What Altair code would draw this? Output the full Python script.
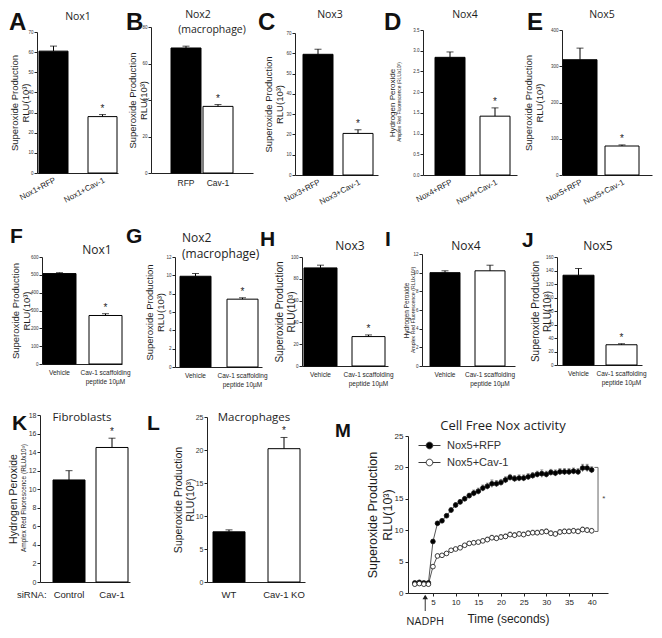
import altair as alt
import pandas as pd

# ---------------------------------------------------------------- data
A_LABELS = ["Nox1+RFP", "Nox1+Cav-1"]
A_VALUES = [60.5, 28.0]
A_ERRORS = [2.5, 1.0]
A_TICKS = [0, 10, 20, 30, 40, 50, 60, 70]

B_LABELS = ["RFP", "Cav-1"]
B_VALUES = [68.5, 36.5]
B_ERRORS = [1.0, 1.0]
B_TICKS = [0, 20, 40, 60, 80]

C_LABELS = ["Nox3+RFP", "Nox3+Cav-1"]
C_VALUES = [59.5, 20.5]
C_ERRORS = [2.5, 1.8]
C_TICKS = [0, 10, 20, 30, 40, 50, 60, 70]

D_LABELS = ["Nox4+RFP", "Nox4+Cav-1"]
D_VALUES = [2.84, 1.42]
D_ERRORS = [0.13, 0.2]
D_TICKS = [0.0, 0.5, 1.0, 1.5, 2.0, 2.5, 3.0, 3.5]

E_LABELS = ["Nox5+RFP", "Nox5+Cav-1"]
E_VALUES = [318, 80]
E_ERRORS = [32, 3]
E_TICKS = [0, 100, 200, 300, 400]

PEPTIDE_LABELS = ["Vehicle", "Cav-1 scaffolding\npeptide 10µM"]
F_VALUES = [507, 272]
F_ERRORS = [5, 10]
F_TICKS = [0, 100, 200, 300, 400, 500, 600]
G_VALUES = [9.9, 7.4]
G_ERRORS = [0.3, 0.15]
G_TICKS = [0, 2, 4, 6, 8, 10, 12]
H_VALUES = [90, 27]
H_ERRORS = [2.5, 1.5]
H_TICKS = [0, 20, 40, 60, 80, 100]
I_VALUES = [10.0, 10.2]
I_ERRORS = [0.2, 0.6]
I_TICKS = [0, 2, 4, 6, 8, 10, 12]
J_VALUES = [133, 30]
J_ERRORS = [10, 1.5]
J_TICKS = [0, 20, 40, 60, 80, 100, 120, 140, 160]

K_LABELS = ["Control", "Cav-1"]
K_VALUES = [11.0, 14.5]
K_ERRORS = [1.0, 1.0]
K_TICKS = [0, 2, 4, 6, 8, 10, 12, 14, 16, 18]

L_LABELS = ["WT", "Cav-1 KO"]
L_VALUES = [7.6, 20.2]
L_ERRORS = [0.3, 1.7]
L_TICKS = [0, 5, 10, 15, 20, 25]

STAR_SECOND = [False, True]
STAR_NONE = [False, False]

SERIES = ["Nox5+RFP", "Nox5+Cav-1"]
TIME = list(range(1, 41))
RFP_MEAN = [1.6, 1.7, 1.6, 1.6, 8.2, 11.1, 11.5, 12.3, 13.2, 14.0,
            14.5, 15.0, 15.5, 15.9, 16.2, 16.7, 17.0, 17.4, 17.4, 17.6,
            18.0, 18.4, 18.2, 18.3, 18.3, 18.5, 18.7, 18.9, 19.0, 18.9,
            19.2, 19.1, 19.3, 19.3, 19.3, 19.4, 19.3, 19.9, 19.9, 19.6]
RFP_SEM = [0.1, 0.1, 0.1, 0.1, 0.3, 0.3, 0.3, 0.3, 0.4, 0.4,
           0.4, 0.4, 0.4, 0.5, 0.5, 0.5, 0.5, 0.6, 0.5, 0.5,
           0.5, 0.5, 0.5, 0.5, 0.5, 0.5, 0.5, 0.5, 0.6, 0.5,
           0.5, 0.5, 0.5, 0.5, 0.5, 0.5, 0.5, 0.6, 0.6, 0.5]
CAV_MEAN = [1.4, 1.5, 1.4, 1.4, 4.2, 5.9, 6.0, 6.3, 6.8, 7.0,
            7.2, 7.6, 7.9, 8.0, 8.1, 8.3, 8.5, 8.8, 8.7, 8.9,
            9.0, 9.3, 9.2, 9.4, 9.3, 9.5, 9.6, 9.6, 9.7, 9.8,
            9.5, 9.4, 9.7, 9.8, 9.8, 9.9, 9.8, 10.1, 10.0, 9.9]
CAV_SEM = [0.1, 0.1, 0.1, 0.1, 0.3, 0.3, 0.3, 0.3, 0.3, 0.3,
           0.3, 0.3, 0.3, 0.3, 0.3, 0.3, 0.4, 0.4, 0.4, 0.4,
           0.4, 0.4, 0.4, 0.4, 0.4, 0.4, 0.4, 0.4, 0.4, 0.4,
           0.4, 0.4, 0.4, 0.4, 0.4, 0.4, 0.4, 0.4, 0.4, 0.4]
M_XDOMAIN = [-0.5, 43.6]
M_TICKS_X = [5, 10, 15, 20, 25, 30, 35, 40]
M_TICKS_Y = [0, 5, 10, 15, 20, 25]
NADPH_TIME = 3.3
SIG_X, SIG_LOW, SIG_HIGH, SIG_TICK_X, SIG_STAR_X = 41.4, 9.8, 20.0, 40.6, 42.7

SUPEROXIDE = ["Superoxide Production", "RLU(10³)"]
AMPLEX = "Amplex Red Fluorescence (RLUx10³)"

# ---------------------------------------------------------------- layout
W, H = 646, 622
MG = 8
AXFONT = "Liberation Sans"
TFONT = "Open Sans"
INK = "#1e1e1e"
ONE = pd.DataFrame({"k": [0]})


def bar_panel(labels, values, errors, stars, ticks, box, bars, ytitle, ytsize, title_at,
              lab_size, lab_pad, lab_angle=0, tick_font=4.5, fmt=None, multiline=False,
              star_size=10):
    x0, x1, ytop, ybot = box
    l1, l2, w = bars
    step = l2 - l1
    outer = (x1 - x0) - (step + w)
    df = pd.DataFrame({"label": labels, "value": values, "err": errors,
                       "star": ["*" if s else "" for s in stars],
                       "order": list(range(len(labels)))})
    df["top"] = df["value"] + df["err"]
    xs = alt.Scale(domain=labels, range=[x0 - MG, x1 - MG], paddingInner=1 - w / step,
                   paddingOuter=max(outer, 0) / (2 * step),
                   align=(l1 - x0) / outer if outer > 0 else 0.5)
    ys = alt.Scale(domain=[ticks[0], ticks[-1]], range=[ybot - MG, ytop - MG], nice=False)
    xax = dict(orient="bottom", offset=(ybot - MG) - H, ticks=False, title=None,
               labelFontSize=lab_size, labelPadding=lab_pad, labelColor=INK)
    if lab_angle:
        xax.update(labelAngle=lab_angle, labelAlign="right", labelBaseline="top")
    else:
        xax.update(labelAngle=0, labelAlign="center", labelBaseline="top")
    if multiline:
        xax.update(labelExpr="split(datum.label, '\\n')", labelLineHeight=lab_size * 1.4)
    yax = dict(orient="left", offset=-(x0 - MG), values=ticks, tickSize=3,
               labelFontSize=tick_font, labelPadding=1, labelOverlap=False,
               title=ytitle, titleFontSize=ytsize, titleX=title_at - x0,
               titleLineHeight=ytsize * 1.2)
    if fmt:
        yax["format"] = fmt
    base = alt.Chart(df)
    xenc = alt.X("label:N", scale=xs, sort=labels, axis=alt.Axis(**xax), title=None)
    bars_ = base.mark_bar(stroke="black", strokeWidth=1).encode(
        x=xenc,
        y=alt.Y("value:Q", scale=ys, axis=alt.Axis(**yax)),
        fill=alt.condition("datum.order == 0", alt.value("black"), alt.value("white")),
    )
    err = base.mark_rule(color="black", strokeWidth=1).encode(
        x=alt.X("label:N", sort=labels), y="value:Q", y2="top:Q")
    cap = base.mark_tick(color="black", thickness=1, size=7, orient="horizontal").encode(
        x=alt.X("label:N", sort=labels), y="top:Q")
    star = base.mark_text(fontSize=star_size, dy=-6, color=INK, font=AXFONT).encode(
        x=alt.X("label:N", sort=labels), y="top:Q", text="star:N")
    return alt.layer(bars_, err, cap, star)


def note(text, x, y, size, weight="normal", align="left", angle=0, font=TFONT,
         baseline="alphabetic", color=INK):
    return alt.Chart(ONE).mark_text(
        text=text, fontSize=size, fontWeight=weight, align=align, angle=angle,
        font=font, baseline=baseline, color=color,
    ).encode(x=alt.value(x - MG), y=alt.value(y - MG))


def letter(text, x, y, size):
    return note(text, x, y, size, weight="bold", font=AXFONT, color="#111")


panels = [
    bar_panel(A_LABELS, A_VALUES, A_ERRORS, STAR_SECOND, A_TICKS, (37, 118, 32, 173), (39, 88, 29),
              SUPEROXIDE, 9.5, 19, 8, 3, lab_angle=-28),
    bar_panel(B_LABELS, B_VALUES, B_ERRORS, STAR_SECOND, B_TICKS, (151, 253, 27, 173), (171, 203, 30),
              SUPEROXIDE, 9.5, 137, 8.5, 5),
    bar_panel(C_LABELS, C_VALUES, C_ERRORS, STAR_SECOND, C_TICKS, (295, 378, 33, 175), (303, 343, 30),
              SUPEROXIDE, 9.5, 273, 8, 3, lab_angle=-28),
    bar_panel(D_LABELS, D_VALUES, D_ERRORS, STAR_SECOND, D_TICKS, (423, 517, 30, 175), (435, 480, 30),
              "Hydrogen Peroxide", 8, 396, 8, 3, lab_angle=-28, fmt=".1f"),
    bar_panel(E_LABELS, E_VALUES, E_ERRORS, STAR_SECOND, E_TICKS, (562, 652, 30, 175), (563, 605, 34),
              SUPEROXIDE, 9.5, 533, 8, 3, lab_angle=-28),
    bar_panel(PEPTIDE_LABELS, F_VALUES, F_ERRORS, STAR_SECOND, F_TICKS, (42, 122, 257, 364), (43, 89, 33),
              SUPEROXIDE, 9.5, 20, 6.5, 5, multiline=True),
    bar_panel(PEPTIDE_LABELS, G_VALUES, G_ERRORS, STAR_SECOND, G_TICKS, (175, 262, 257, 367), (180, 227, 31),
              SUPEROXIDE, 9.5, 154, 6.5, 5, multiline=True),
    bar_panel(PEPTIDE_LABELS, H_VALUES, H_ERRORS, STAR_SECOND, H_TICKS, (302, 388, 257, 366), (304, 352, 33),
              SUPEROXIDE, 10, 284, 6.5, 5, multiline=True),
    bar_panel(PEPTIDE_LABELS, I_VALUES, I_ERRORS, STAR_NONE, I_TICKS, (422, 515, 254, 366), (430, 475, 30),
              "Hydrogen Peroxide", 6.5, 409, 6.5, 5, multiline=True),
    bar_panel(PEPTIDE_LABELS, J_VALUES, J_ERRORS, STAR_SECOND, J_TICKS, (557, 642, 257, 365), (563, 606, 31),
              SUPEROXIDE, 10, 540, 6.5, 5, multiline=True),
    bar_panel(K_LABELS, K_VALUES, K_ERRORS, STAR_SECOND, K_TICKS, (40, 130, 415, 582), (53, 96, 32),
              "Hydrogen Peroxide", 10.5, 18, 9.5, 7, tick_font=7),
    bar_panel(L_LABELS, L_VALUES, L_ERRORS, STAR_SECOND, L_TICKS, (207, 305, 417, 582), (213, 268, 32),
              SUPEROXIDE, 10.5, 183, 9.5, 7, tick_font=7),
]

# ---------------------------------------------------------------- panel M
mdf = pd.DataFrame({
    "time": TIME + TIME,
    "mean": RFP_MEAN + CAV_MEAN,
    "sem": RFP_SEM + CAV_SEM,
    "series": [SERIES[0]] * len(TIME) + [SERIES[1]] * len(TIME),
})
mdf["lo"] = mdf["mean"] - mdf["sem"]
mdf["hi"] = mdf["mean"] + mdf["sem"]
mx0, mx1, my0, my1 = 408, 608, 436, 593
mxs = alt.Scale(domain=M_XDOMAIN, range=[mx0 - MG, mx1 - MG], nice=False, zero=False)
mys = alt.Scale(domain=[M_TICKS_Y[0], M_TICKS_Y[-1]], range=[my1 - MG, my0 - MG], nice=False)
mxax = alt.Axis(orient="bottom", offset=(my1 - MG) - H, values=M_TICKS_X, tickSize=3,
                labelFontSize=8, labelPadding=2, labelColor=INK, title="Time (seconds)",
                titleFontSize=12, titlePadding=7, labelFlush=False)
myax = alt.Axis(orient="left", offset=-(mx0 - MG), values=M_TICKS_Y, tickSize=3,
                labelFontSize=8, labelPadding=2, labelColor=INK, title=SUPEROXIDE,
                titleFontSize=12.5, titleX=379 - mx0, titleLineHeight=15)
mbase = alt.Chart(mdf)
mline = mbase.mark_line(color="#555", strokeWidth=1).encode(
    x=alt.X("time:Q", scale=mxs, axis=mxax),
    y=alt.Y("mean:Q", scale=mys, axis=myax),
    detail="series:N",
)
merr = mbase.mark_rule(color="#555", strokeWidth=0.8).encode(x="time:Q", y="lo:Q", y2="hi:Q")
mcap = mbase.mark_tick(color="#555", thickness=0.8, size=3, orient="horizontal").encode(
    x="time:Q", y="hi:Q")
LEG_PATH = "M-1,0L-0.3,0M0.3,0L1,0M0.3,0A0.3,0.3,0,1,1,-0.3,0A0.3,0.3,0,1,1,0.3,0Z"
mpts = mbase.mark_point(shape="circle", filled=True, size=22, stroke="#111",
                        strokeWidth=0.8, opacity=1).encode(
    x="time:Q", y="mean:Q",
    fill=alt.Fill("series:N", scale=alt.Scale(domain=SERIES, range=["black", "white"]),
                  legend=alt.Legend(orient="none", legendX=410, legendY=426, title=None,
                                    symbolType=LEG_PATH, symbolSize=484,
                                    symbolStrokeColor="#222", symbolStrokeWidth=0.9,
                                    labelFont=AXFONT, labelFontSize=11, labelColor="#333",
                                    labelOffset=6, rowPadding=-5, padding=0)),
)
sig = alt.Chart(ONE).mark_rule(color="#666", strokeWidth=1).encode(
    x=alt.datum(SIG_X), y=alt.datum(SIG_LOW), y2=alt.datum(SIG_HIGH))
sig_top = alt.Chart(ONE).mark_rule(color="#666", strokeWidth=1).encode(
    x=alt.datum(SIG_TICK_X), x2=alt.datum(SIG_X), y=alt.datum(SIG_HIGH))
sig_bot = alt.Chart(ONE).mark_rule(color="#666", strokeWidth=1).encode(
    x=alt.datum(SIG_TICK_X), x2=alt.datum(SIG_X), y=alt.datum(SIG_LOW))
sig_star = alt.Chart(ONE).mark_text(text="*", fontSize=8, color="#444").encode(
    x=alt.datum(SIG_STAR_X), y=alt.datum((SIG_LOW + SIG_HIGH) / 2))
arrow = alt.Chart(ONE).mark_rule(color="#333", strokeWidth=1).encode(
    x=alt.datum(NADPH_TIME), y=alt.value(596 - MG), y2=alt.value(611 - MG))
arrow_head = alt.Chart(ONE).mark_point(shape="triangle-up", filled=True, size=30,
                                       color="#222", opacity=1).encode(
    x=alt.datum(NADPH_TIME), y=alt.value(597 - MG))
nadph = alt.Chart(ONE).mark_text(text="NADPH", fontSize=11, font=TFONT, color=INK,
                                 baseline="alphabetic").encode(
    x=alt.datum(NADPH_TIME), y=alt.value(625 - MG))
panel_m = alt.layer(mline, merr, mcap, mpts, sig, sig_top, sig_bot, sig_star,
                    arrow, arrow_head, nadph)

# ---------------------------------------------------------------- annotations
notes = [
    # panel letters
    letter("A", 9, 30, 24), letter("B", 126, 30, 24), letter("C", 258, 30, 24),
    letter("D", 384, 30, 24), letter("E", 527, 30, 24),
    letter("F", 10, 243, 21), letter("G", 126, 243, 21), letter("H", 260, 246, 21),
    letter("I", 385, 246, 21), letter("J", 522, 247, 21),
    letter("K", 12, 430, 21), letter("L", 147, 430, 21), letter("M", 335, 437, 19),
    # panel titles
    note("Nox1", 78, 20, 10.5, align="center"),
    note("Nox2", 198, 18, 10.5, align="center"), note("(macrophage)", 212, 33, 10.5, align="center"),
    note("Nox3", 330, 18, 10.5, align="center"), note("Nox4", 465, 18, 10.5, align="center"),
    note("Nox5", 602, 18, 10.5, align="center"),
    note("Nox1", 97, 254, 12, align="center"),
    note("Nox2", 182, 242, 12), note("(macrophage)", 182, 258, 12),
    note("Nox3", 350, 250, 12, align="center"), note("Nox4", 466, 250, 12, align="center"),
    note("Nox5", 598, 250, 12, align="center"),
    note("Fibroblasts", 82, 421, 11.5, align="center"),
    note("Macrophages", 254, 421, 11.5, align="center"),
    note("Cell Free Nox activity", 503, 430, 13, align="center"),
    # second lines of the hydrogen peroxide axis titles
    note(AMPLEX, 400, 102, 4.8, align="center", angle=270, font=AXFONT, baseline="middle"),
    note(AMPLEX, 413, 310, 5.2, align="center", angle=270, font=AXFONT, baseline="middle"),
    note(AMPLEX, 24, 498, 6.5, align="center", angle=270, font=AXFONT, baseline="middle"),
    # siRNA prefix
    note("siRNA:", 17, 598, 9.5, font=AXFONT),
]

chart = alt.layer(*panels, panel_m, *notes).resolve_scale(
    x="independent", y="independent"
).resolve_axis(
    x="independent", y="independent"
).properties(
    width=W, height=H, padding=0, autosize=alt.AutoSizeParams(type="none")
).configure_view(
    stroke=None
).configure_axis(
    grid=False, domainColor="#222", tickColor="#222", labelColor="#333",
    titleColor=INK, labelFont=AXFONT, titleFont=AXFONT, titleFontWeight="normal",
    domainWidth=1, tickWidth=1,
)

chart.save("out.html", embed_options={"renderer": "svg", "actions": False})
